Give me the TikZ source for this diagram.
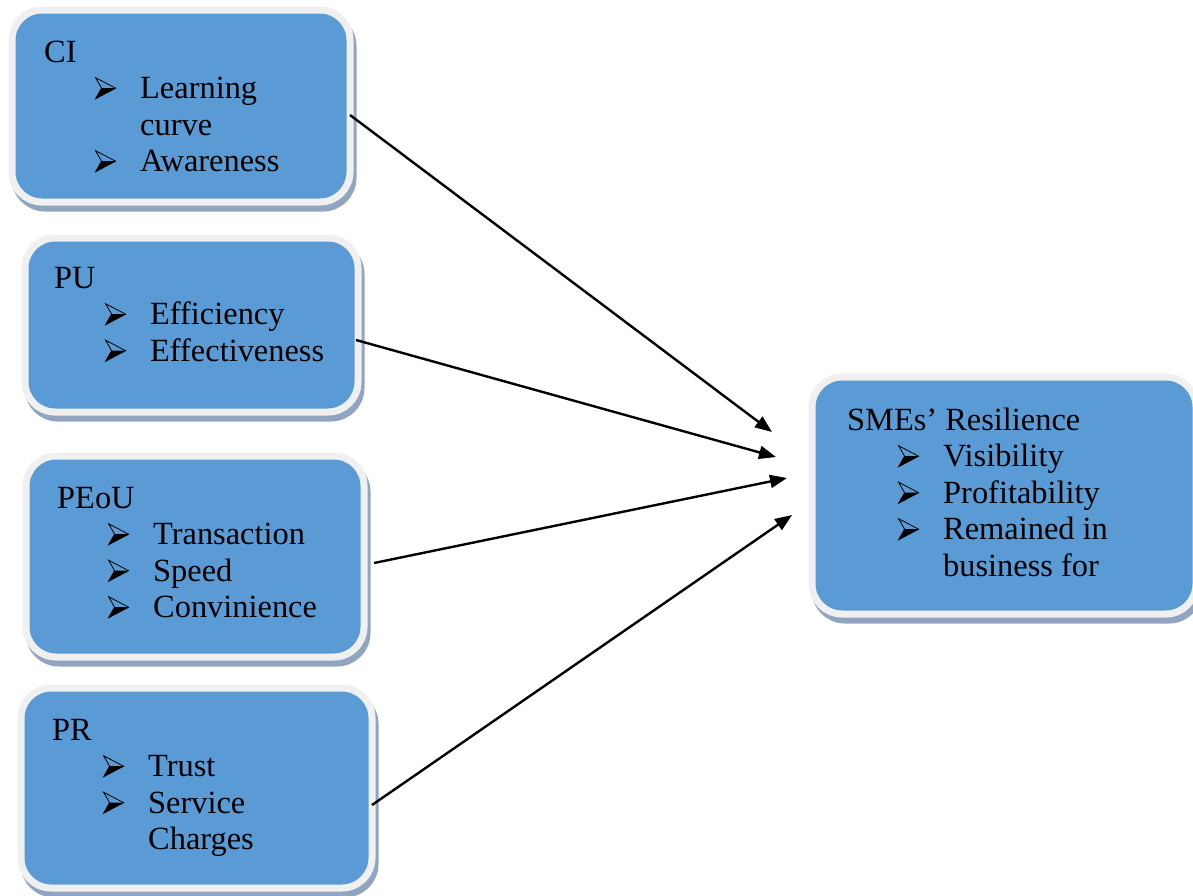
\documentclass[tikz,border=0pt]{standalone}
\usepackage{fontspec}
\setmainfont{Liberation Serif}
\usetikzlibrary{arrows.meta,positioning,shadows}

\definecolor{boxblue}{RGB}{91,155,213}
\definecolor{ringgray}{RGB}{240,240,240}
\definecolor{shadeblue}{RGB}{145,165,192}

%arrowhead bullet
\newcommand{\bul}{\tikz[baseline=0pt,x=1pt,y=1pt,line width=0.8pt,line join=miter]{\draw (0,21)--(20,10.5)--(0,0)--(6,10.5)--cycle; \fill (6,10.5)--(20,10.5)--(0,0)--cycle;}}
\newcommand{\itm}{\makebox[96pt][l]{\hspace*{51pt}\bul}}
\newcommand{\cont}{\hspace*{96pt}}

\tikzset{
	factor/.style={draw=ringgray, line width=7pt, fill=boxblue, rounded corners=30pt, outer sep=0pt, inner sep=0pt,
		drop shadow={shadow xshift=3pt, shadow yshift=-6pt, fill=shadeblue, draw=shadeblue, line width=7pt, opacity=1}},
	boxtext/.style={font=\fontsize{32.4}{36.5}\selectfont, align=left, inner sep=0pt, anchor=north west},
	link/.style={-{Triangle[length=17pt,width=13pt]}, line width=2.4pt}
}

\begin{document}
\begin{tikzpicture}[x=1pt, y=-1pt]
	\useasboundingbox (0,0) rectangle (1193,895);
	
	%factor boxes
	\node[factor, minimum width=338pt, minimum height=192pt] (ciBox) at (181,106) {};
	\node[factor, minimum width=333pt, minimum height=174pt] (puBox) at (191.5,325) {};
	\node[factor, minimum width=338pt, minimum height=201pt] (peouBox) at (195,556.5) {};
	\node[factor, minimum width=351pt, minimum height=200pt] (prBox) at (196.5,788) {};
	\node[factor, minimum width=384pt, minimum height=237pt] (smeBox) at (1004,495.5) {};
	
	\node[boxtext, below right=27pt and 32pt of ciBox.north west] (ciText)
		{\rule{0pt}{25pt}CI\\ \itm Learning\\ \cont curve\\ \itm Awareness};
	\node[boxtext, below right=25pt and 29pt of puBox.north west] (puText)
		{\rule{0pt}{25pt}PU\\ \itm Efficiency\\ \itm Effectiveness};
	\node[boxtext, below right=27pt and 31pt of peouBox.north west] (peouText)
		{\rule{0pt}{25pt}PEoU\\ \itm Transaction\\ \itm Speed\\ \itm Convinience};
	\node[boxtext, below right=27pt and 31pt of prBox.north west] (prText)
		{\rule{0pt}{25pt}PR\\ \itm Trust\\ \itm Service\\ \cont Charges};
	\node[boxtext, below right=28pt and 35pt of smeBox.north west] (smeText)
		{\rule{0pt}{25pt}SMEs’ Resilience\\ \itm Visibility\\ \itm Profitability\\ \itm Remained in\\ \cont business for};
	
	%arrows
	\coordinate (ciEnd) at (772,432);
	\coordinate (puEnd) at (776,457);
	\coordinate (peouEnd) at (787,478);
	\coordinate (prEnd) at (792,515);
	
	\draw[link] ([yshift=-9pt]ciBox.east) -- (ciEnd);
	\draw[link] ([xshift=-2pt,yshift=-15pt]puBox.east) -- (puEnd);
	\draw[link] ([xshift=10pt,yshift=-6.5pt]peouBox.east) -- (peouEnd);
	\draw[link] ([yshift=-17pt]prBox.east) -- (prEnd);
\end{tikzpicture}
\end{document}
